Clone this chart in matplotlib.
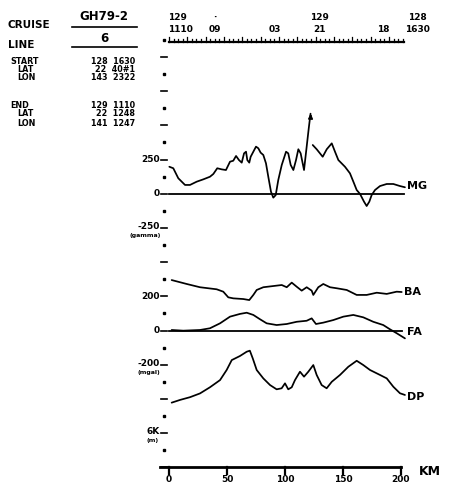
import numpy as np
import matplotlib
matplotlib.use("Agg")
import matplotlib.pyplot as plt

# ── Profile data (distance in km) ─────────────────────────────────────────
mg_km_a = [0.3, 3.7, 8.0, 13.8, 18.1, 23.9, 29.6, 35.3, 38.2, 41.6, 45.4, 49.1,
           52.6, 55.4, 57.8, 60.3, 62.7, 64.7, 66.4, 67.5, 69.2, 70.4, 72.7,
           75.0, 77.0, 79.0, 81.3, 83.6, 85.6, 87.9, 89.9, 92.0, 94.2, 97.2,
           100.9, 102.8, 104.9, 107.2, 109.5, 111.5, 113.5, 116.4, 118.5,
           120.5, 122.0]
mg_val_a = [197, 186, 113, 64, 64, 88, 105, 124, 144, 186, 178, 173,
            234, 241, 276, 246, 227, 295, 307, 246, 227, 270, 307,
            344, 332, 300, 283, 222, 124, 15, -29, -10, 100, 210,
            307, 295, 210, 173, 246, 325, 295, 173, 330,
            480, 585]
mg_km_b = [123.9, 127.3, 132.5, 136.0, 140.3, 143.1, 146.0, 151.7, 156.0,
           159.5, 161.8, 164.7, 168.1, 170.4, 172.7, 174.7, 177.6, 181.9,
           187.7, 193.4, 199.1, 203.4]
mg_val_b = [356, 325, 270, 325, 368, 307, 246, 197, 149,
            76, 27, -2, -58, -90, -58, -10, 27, 56,
            71, 71, 56, 47]

ba_km = [2.3, 15.3, 26.7, 41.1, 46.8, 51.1, 55.4, 64.1, 69.2, 72.7, 75.6,
         81.3, 89.9, 97.2, 101.5, 105.8, 110.1, 114.4, 118.7, 123.0, 124.4,
         128.7, 133.0, 138.8, 144.6, 153.2, 161.8, 170.4, 179.1, 187.7,
         196.3, 200.6]
ba_val = [295, 272, 253, 241, 227, 194, 188, 184, 178, 208, 237,
          253, 260, 266, 253, 280, 256, 233, 253, 233, 208,
          253, 272, 253, 247, 237, 208, 208, 221, 214,
          227, 225]

fa_km = [2.3, 12.3, 26.7, 35.3, 44.0, 52.6, 61.2, 67.0, 72.7, 78.4, 84.2,
         92.8, 101.5, 110.1, 118.7, 123.0, 126.7, 133.0, 141.6, 150.3,
         158.9, 167.5, 176.1, 184.7, 190.5, 196.3, 203.4]
fa_val = [3, -1, 3, 13, 42, 81, 97, 104, 91, 66, 42,
          32, 38, 51, 57, 71, 38, 46, 61, 81,
          91, 77, 51, 32, 7, -16, -46]

dp_km = [2.3, 9.5, 18.1, 26.7, 35.3, 44.0, 49.7, 54.1, 61.2, 67.0, 69.7,
         72.2, 75.6, 81.3, 87.1, 92.8, 97.1, 100.0, 102.8, 105.8, 108.6,
         112.9, 116.4, 120.1, 124.4, 127.3, 131.6, 135.9, 140.3, 147.4,
         154.6, 161.8, 167.5, 173.3, 181.9, 187.7, 193.4, 199.1, 203.4]
dp_val = [5110, 5030, 4950, 4840, 4660, 4450, 4155, 3865, 3745, 3620, 3590,
          3815, 4155, 4400, 4595, 4720, 4690, 4545, 4720, 4660, 4450,
          4205, 4350, 4205, 4010, 4300, 4595, 4690, 4500, 4300,
          4060, 3885, 4010, 4155, 4300, 4400, 4645, 4835, 4885]

km_ticks = [0, 50, 100, 150, 200]

# time annotations along the track (top scale)
time_km = [-1.0, 39.7, 91.0, 130.0, 184.5, 214.0]
time_day = ["129", "·", "", "129", "", "128"]
time_hm = ["1110", "09", "03", "21", "18", "1630"]

# header block
hdr_keys = ["START", "LAT", "LON", "END", "LAT", "LON"]
hdr_vals = ["128  1630", "22  40#1", "143  2322", "129  1110", "22  1248", "141  1247"]

# ── Layout helpers ────────────────────────────────────────────────────────
W, H = 452, 487
X0, PX_PER_KM = 169.0, 1.16        # pixel of 0 km, pixels per km
Y0, STEP = 74.0, 17.1              # pixel of ladder step 0, pixels per step

def mg_y(v):  return 7 - np.asarray(v) / 125.0     # 125 gamma per step
def gr_y(v):  return 15 - np.asarray(v) / 100.0    # 100 mgal per step
def dp_y(d):  return 21 - (6000 - np.asarray(d)) / 500.0

FONT = ["Liberation Sans Narrow", "DejaVu Sans"]
plt.rcParams["font.family"] = FONT

fig = plt.figure(figsize=(W / 100, H / 100), dpi=100)
fig.patch.set_facecolor("white")

# data axes: x in km, y in ladder steps
ax = fig.add_axes([0, 0, 1, 1])
ax.set_xlim(-X0 / PX_PER_KM, (W - X0) / PX_PER_KM)
ax.set_ylim((H - Y0) / STEP, -Y0 / STEP)
ax.axis("off")

# annotation axes in pixels
tx = fig.add_axes([0, 0, 1, 1], facecolor="none")
tx.set_xlim(0, W)
tx.set_ylim(H, 0)
tx.axis("off")

lw = 1.25
kw = dict(color="black", lw=lw, solid_capstyle="round", solid_joinstyle="round")

# ── Curves ────────────────────────────────────────────────────────────────
ax.plot(mg_km_a, mg_y(mg_val_a), **kw)
ax.annotate("", xy=(mg_km_a[-1] + 0.3, mg_y(mg_val_a[-1] + 20)),
            xytext=(mg_km_a[-1], mg_y(mg_val_a[-1] - 40)),
            arrowprops=dict(arrowstyle="-|>", color="black", lw=lw,
                            mutation_scale=6))
ax.plot(mg_km_b, mg_y(mg_val_b), **kw)
ax.plot([0, 203], mg_y([0, 0]), color="black", lw=1.3)

ax.plot(ba_km, gr_y(ba_val), **kw)
ax.plot(fa_km, gr_y(fa_val), **kw)
ax.plot([0, 201], gr_y([0, 0]), color="black", lw=1.3)
ax.plot(dp_km, dp_y(dp_val), **kw)

# curve labels
lab = dict(fontsize=8, fontweight="bold", va="center", ha="left")
ax.text(205, mg_y(55), "MG", **lab)
ax.text(203, gr_y(225), "BA", **lab)
ax.text(205, gr_y(-10), "FA", **lab)
ax.text(205, dp_y(4950), "DP", **lab)

# ── Left ladder scale ─────────────────────────────────────────────────────
lad_x = (164 - X0) / PX_PER_KM
for k in range(-2, 24):
    if k % 2:
        ax.plot([lad_x - 2.6, lad_x + 2.2], [k, k], color="black", lw=1.2)
    else:
        ax.plot(lad_x, k, marker="s", ms=1.6, color="black")

tl = dict(fontsize=6.5, fontweight="bold", ha="right", va="center")
ax.text(lad_x - 3.5, mg_y(250), "250", **tl)
ax.text(lad_x - 3.5, mg_y(0), "0", **tl)
ax.text(lad_x - 3.5, mg_y(-250) - 0.08, "-250", **tl)
ax.text(lad_x - 3.0, mg_y(-250) + 0.45, "(gamma)", fontsize=4.5,
        fontweight="bold", ha="right", va="center")
ax.text(lad_x - 3.5, gr_y(200), "200", **tl)
ax.text(lad_x - 3.5, gr_y(0), "0", **tl)
ax.text(lad_x - 3.5, gr_y(-200) - 0.08, "-200", **tl)
ax.text(lad_x - 3.0, gr_y(-200) + 0.45, "(mgal)", fontsize=4.5,
        fontweight="bold", ha="right", va="center")
ax.text(lad_x - 3.5, dp_y(6000) - 0.08, "6K", **tl)
ax.text(lad_x - 4.5, dp_y(6000) + 0.42, "(m)", fontsize=4.5,
        fontweight="bold", ha="right", va="center")

# ── Bottom distance axis ──────────────────────────────────────────────────
ax.plot([(160 - X0) / PX_PER_KM, 200], [23, 23], color="black", lw=2.0)
for t in km_ticks:
    ax.plot([t, t], [23, 23.4], color="black", lw=1.6)
    ax.text(t, 23.45, str(t), fontsize=6.5, fontweight="bold",
            ha="center", va="top")
ax.text(225, 23.25, "KM", fontsize=9, fontweight="bold", ha="center", va="center")

# ── Top time scale ────────────────────────────────────────────────────────
top_y = (42 - Y0) / STEP
ax.plot([0, 203], [top_y, top_y], color="black", lw=1.6)
minor = np.arange(0, 204, 3.95)
for i, t in enumerate(minor):
    h = 0.3 if i % 4 == 0 else 0.17
    ax.plot([t, t], [top_y, top_y - h], color="black", lw=0.9)
for km, d, hm in zip(time_km, time_day, time_hm):
    ha = "left" if km < 0 else "center"
    ax.text(km, (29 - Y0) / STEP, hm, fontsize=6.5, fontweight="bold",
            ha=ha, va="center")
    if d:
        ax.text(km, (18 - Y0) / STEP, d, fontsize=6.5, fontweight="bold",
                ha=ha, va="center")

# ── Header block ──────────────────────────────────────────────────────────
hb = dict(fontweight="bold", va="center")
tx.text(8, 25, "CRUISE", fontsize=7.5, ha="left", **hb)
tx.text(104, 16, "GH79-2", fontsize=8.5, ha="center", **hb)
tx.plot([72, 137], [27, 27], color="black", lw=1.2)
tx.text(8, 45, "LINE", fontsize=7.5, ha="left", **hb)
tx.text(104, 38, "6", fontsize=8.5, ha="center", **hb)
tx.plot([72, 137], [47, 47], color="black", lw=1.2)

rows_y = [62, 70, 78, 106, 114, 123]
for key, val, yy in zip(hdr_keys, hdr_vals, rows_y):
    kx = 10 if key in ("START", "END") else 17
    tx.text(kx, yy, key, fontsize=5.8, ha="left", **hb)
    tx.text(135, yy, val, fontsize=5.8, ha="right", **hb)

fig.savefig("out.png", dpi=100, facecolor="white")
